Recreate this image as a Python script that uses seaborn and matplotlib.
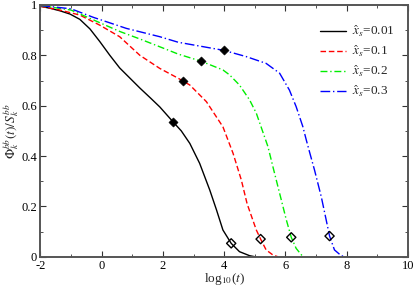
import matplotlib
matplotlib.use('Agg')
import matplotlib.pyplot as plt
import seaborn as sns
from matplotlib.ticker import MultipleLocator, FuncFormatter

# данные (log10 t, Phi/S)
x_001 = [-2, -1.68, -1.36, -1.03, -0.71, -0.38, -0.06, 0.27, 0.59, 0.92, 1.25, 1.60, 1.90, 2.33, 2.60, 2.88, 3.20, 3.53, 3.75, 3.96, 4.23, 4.50, 4.83, 5.0]
y_001 = [0.995, 0.987, 0.977, 0.964, 0.943, 0.905, 0.855, 0.80, 0.75, 0.71, 0.67, 0.63, 0.595, 0.536, 0.50, 0.45, 0.371, 0.265, 0.186, 0.106, 0.053, 0.02, 0.004, 0.0]

x_01 = [-2, -1.36, -0.71, -0.06, 0.59, 1.25, 1.90, 2.50, 2.88, 3.42, 3.96, 4.29, 4.56, 4.75, 5.05, 5.19, 5.37, 5.60, 5.75]
y_01 = [0.995, 0.98, 0.96, 0.92, 0.874, 0.80, 0.748, 0.709, 0.682, 0.616, 0.516, 0.411, 0.305, 0.21, 0.106, 0.07, 0.027, 0.006, 0.0]

x_02 = [-2, -1.0, -0.27, 0.59, 1.25, 1.90, 2.50, 3.24, 3.96, 4.18, 4.50, 4.83, 5.05, 5.43, 5.59, 5.81, 6.03, 6.19, 6.35, 6.57]
y_02 = [0.998, 0.98, 0.941, 0.895, 0.865, 0.834, 0.805, 0.777, 0.742, 0.722, 0.682, 0.623, 0.57, 0.437, 0.358, 0.252, 0.146, 0.077, 0.033, 0.0]

x_03 = [-2, -1.0, -0.27, 0.81, 1.90, 2.50, 3.98, 4.72, 5.37, 5.81, 6.13, 6.35, 6.57, 6.68, 6.80, 6.95, 7.17, 7.33, 7.44, 7.60, 7.82, 7.95]
y_03 = [0.998, 0.985, 0.951, 0.907, 0.874, 0.852, 0.82, 0.795, 0.768, 0.729, 0.662, 0.596, 0.516, 0.464, 0.41, 0.344, 0.238, 0.146, 0.082, 0.027, 0.004, 0.0]

# ромбы: закрашенные и пустые
filled_x = [2.33, 2.66, 3.24, 3.98]
filled_y = [0.536, 0.70, 0.777, 0.82]
open_x = [4.23, 5.19, 6.19, 7.44]
open_y = [0.053, 0.07, 0.077, 0.082]

labels = [r'$\hat{x}_s$=0.01', r'$\hat{x}_s$=0.1', r'$\hat{x}_s$=0.2', r'$\hat{x}_s$=0.3']

sns.set_style('ticks')
plt.rcParams['font.family'] = ['Liberation Serif', 'DejaVu Serif']
plt.rcParams['mathtext.fontset'] = 'stix'
plt.rcParams['axes.unicode_minus'] = False
plt.rcParams['font.size'] = 9

fig = plt.figure(figsize=(4.15, 2.86), dpi=100)
ax = fig.add_axes([40.3 / 415, 1 - 256.7 / 286, (408 - 40.3) / 415, (256.7 - 5) / 286])

curves = [(x_001, y_001, 'black', '-'),
          (x_01, y_01, 'red', (0, (4, 2))),
          (x_02, y_02, '#00ee00', (0, (5, 2, 1, 2))),
          (x_03, y_03, 'blue', (0, (7, 2, 1, 2)))]
for (xs, ys, c, ls), lab in zip(curves, labels):
    sns.lineplot(x=xs, y=ys, ax=ax, color=c, linestyle=ls, linewidth=1.0,
                 sort=False, estimator=None, label=lab)

sns.scatterplot(x=filled_x, y=filled_y, ax=ax, marker='D', s=22, color='black',
                edgecolor='black', zorder=5, legend=False)
ax.scatter(open_x, open_y, marker='D', s=22, facecolors='none', edgecolors='black',
           linewidths=1.0, zorder=5)

ax.set_xlim(-2, 10)
ax.set_ylim(0, 1)
ax.xaxis.set_major_locator(MultipleLocator(2))
ax.xaxis.set_minor_locator(MultipleLocator(1))
ax.yaxis.set_major_locator(MultipleLocator(0.2))
ax.yaxis.set_minor_locator(MultipleLocator(0.1))
ax.yaxis.set_major_formatter(FuncFormatter(lambda v, p: f'{v:g}'))
ax.tick_params(which='both', direction='in', top=True, right=True, labelsize=9, colors='#333333',
               labelcolor='black', pad=1.5)
ax.tick_params(axis='y', which='major', pad=2.5)
ax.tick_params(axis='x', which='major', pad=2.5)
ax.tick_params(which='major', length=4)
ax.tick_params(which='minor', length=2.5)
for sp in ax.spines.values():
    sp.set_color('#555555')
    sp.set_linewidth(1.4)

ax.set_xlabel(r'log$_{10}$($t$)', fontsize=9.5, labelpad=-0.5)
ax.set_ylabel(r'$\Phi^{bb}_k(t)/S^{bb}_k$', fontsize=9.5, labelpad=0)

ax.legend(loc='upper left', bbox_to_anchor=(0.755, 0.94), bbox_transform=fig.transFigure,
          frameon=False, fontsize=9.5, handlelength=2.0, handletextpad=0.4,
          labelspacing=0.35, borderpad=0)

plt.savefig('out.png', dpi=100)
